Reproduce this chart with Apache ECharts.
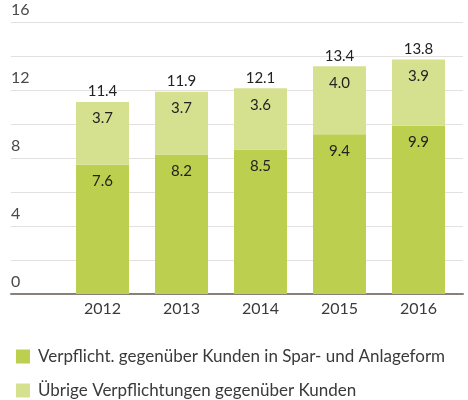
<!DOCTYPE html>
<html>
<head>
<meta charset="utf-8">
<script src="https://cdn.jsdelivr.net/npm/echarts@6/dist/echarts.min.js"></script>
<style>
  html, body { margin: 0; padding: 0; background: #fff; }
  #main { width: 468px; height: 400px; }
</style>
</head>
<body>
<div id="main"></div>
<script>
// Daten
var years = ["2012", "2013", "2014", "2015", "2016"];
var sparAnlage = [7.6, 8.2, 8.5, 9.4, 9.9];
var uebrige = [3.7, 3.7, 3.6, 4.0, 3.9];
var totals = [11.4, 11.9, 12.1, 13.4, 13.8];
var names = ["Verpflicht. gegenüber Kunden in Spar- und Anlageform", "Übrige Verpflichtungen gegenüber Kunden"];

var font = "Lato";
var myChart = echarts.init(document.getElementById("main"));

function legendAt(name, top) {
  return {
    data: [name],
    left: 11,
    top: top,
    icon: "rect",
    itemWidth: 14,
    itemHeight: 14,
    textStyle: { fontSize: 17, color: "#3a3a3a", fontFamily: font, padding: [0, 0, 0, 3] }
  };
}

var option = {
  animation: false,
  textStyle: { fontFamily: font },
  legend: [legendAt(names[0], 343), legendAt(names[1], 377)],
  grid: [
    { left: 11, right: 5, top: 22, bottom: 106 },
    { left: 63, right: 10, top: 22, bottom: 106 }
  ],
  xAxis: [
    {
      gridIndex: 0,
      type: "value",
      min: 0,
      max: 1,
      axisLine: { show: true, lineStyle: { color: "#8a8079", width: 2 } },
      axisTick: { show: false },
      axisLabel: { show: false },
      splitLine: { show: false }
    },
    {
      gridIndex: 1,
      type: "category",
      data: years,
      axisLine: { show: false },
      axisTick: { show: false },
      axisLabel: { fontSize: 16, color: "#3a3a3a", margin: 7, fontFamily: font }
    }
  ],
  yAxis: [
    {
      gridIndex: 0,
      type: "value",
      min: 0,
      max: 16,
      interval: 2,
      axisLine: { show: false },
      axisTick: { show: false },
      splitLine: { lineStyle: { color: "#e4e0dd", width: 1 } },
      axisLabel: {
        inside: true,
        margin: 0,
        align: "left",
        verticalAlign: "bottom",
        padding: [0, 0, 4, 0],
        fontSize: 16,
        color: "#4a4a4a",
        fontFamily: font,
        formatter: function (v) { return v % 4 === 0 ? String(v) : ""; }
      }
    },
    {
      gridIndex: 1,
      type: "value",
      min: 0,
      max: 16,
      show: false
    }
  ],
  series: [
    {
      name: names[0],
      type: "bar",
      xAxisIndex: 1,
      yAxisIndex: 1,
      stack: "a",
      barWidth: 53,
      data: sparAnlage,
      itemStyle: { color: "#bccf4e" },
      label: {
        show: true, position: "insideTop", distance: 9, fontSize: 15, color: "#222",
        fontFamily: font, formatter: function (p) { return p.value.toFixed(1); }
      }
    },
    {
      name: names[1],
      type: "bar",
      xAxisIndex: 1,
      yAxisIndex: 1,
      stack: "a",
      barWidth: 53,
      data: uebrige,
      itemStyle: { color: "#d6e190" },
      label: {
        show: true, position: "insideTop", distance: 9, fontSize: 15, color: "#222",
        fontFamily: font, formatter: function (p) { return p.value.toFixed(1); }
      }
    },
    {
      name: "Summe",
      type: "bar",
      xAxisIndex: 1,
      yAxisIndex: 1,
      stack: "a",
      barWidth: 53,
      data: totals.map(function () { return 0; }),
      itemStyle: { color: "transparent" },
      label: {
        show: true, position: "top", distance: 3, fontSize: 15, color: "#222",
        fontFamily: font, formatter: function (p) { return totals[p.dataIndex].toFixed(1); }
      }
    }
  ]
};
myChart.setOption(option);
</script>
</body>
</html>
